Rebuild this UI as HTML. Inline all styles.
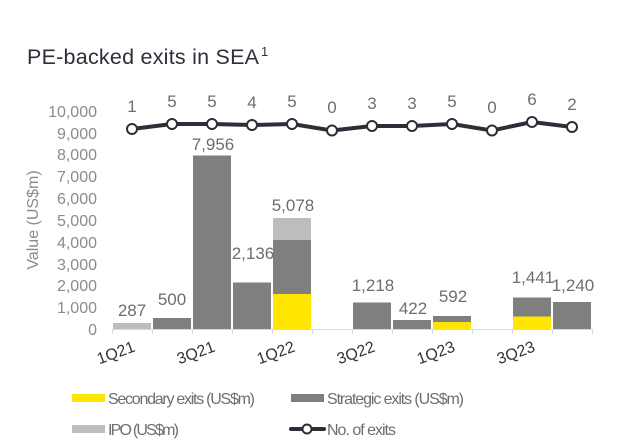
<!DOCTYPE html>
<html><head><meta charset="utf-8"><style>
html,body{margin:0;padding:0;background:#fff;}
svg{display:block;font-family:"Liberation Sans",sans-serif;}
</style></head><body>
<svg width="640" height="442" viewBox="0 0 640 442" xmlns="http://www.w3.org/2000/svg">
<rect width="640" height="442" fill="#fff"/>
<text x="27" y="64" font-size="21.5" fill="#2e2e38" textLength="232">PE-backed exits in SEA</text><text x="261" y="56" font-size="13" fill="#2e2e38">1</text>
<g font-size="16" fill="#8a8a92" text-anchor="end">
<text x="97" y="335">0</text>
<text x="97" y="313">1,000</text>
<text x="97" y="291">2,000</text>
<text x="97" y="270">3,000</text>
<text x="97" y="248">4,000</text>
<text x="97" y="226">5,000</text>
<text x="97" y="204">6,000</text>
<text x="97" y="182">7,000</text>
<text x="97" y="160">8,000</text>
<text x="97" y="139">9,000</text>
<text x="97" y="117">10,000</text>
</g>
<text transform="translate(38,220) rotate(-90)" font-size="16" fill="#8a8a92" text-anchor="middle">Value (US$m)</text>
<g>
<rect x="113" y="323" width="38" height="6" fill="#bdbdbd"/>
<rect x="153" y="318" width="38" height="11" fill="#7f7f7f"/>
<rect x="193" y="155.5" width="38" height="173.5" fill="#7f7f7f"/>
<rect x="233" y="282.5" width="38" height="46.5" fill="#7f7f7f"/>
<rect x="273" y="218" width="38" height="22" fill="#bdbdbd"/>
<rect x="273" y="240" width="38" height="54" fill="#7f7f7f"/>
<rect x="273" y="294" width="38" height="35" fill="#ffe600"/>
<rect x="353" y="302.5" width="38" height="26.5" fill="#7f7f7f"/>
<rect x="393" y="320" width="38" height="9" fill="#7f7f7f"/>
<rect x="433" y="316" width="38" height="6" fill="#7f7f7f"/>
<rect x="433" y="322" width="38" height="7" fill="#ffe600"/>
<rect x="513" y="297.5" width="38" height="19" fill="#7f7f7f"/>
<rect x="513" y="316.5" width="38" height="12.5" fill="#ffe600"/>
<rect x="553" y="302" width="38" height="27" fill="#7f7f7f"/>
</g>
<g stroke="#d9d9d9" stroke-width="1">
<line x1="112" y1="329.5" x2="592" y2="329.5"/>
<line x1="112.5" y1="329" x2="112.5" y2="334"/><line x1="152.5" y1="329" x2="152.5" y2="334"/>
<line x1="192.5" y1="329" x2="192.5" y2="334"/><line x1="232.5" y1="329" x2="232.5" y2="334"/>
<line x1="272.5" y1="329" x2="272.5" y2="334"/><line x1="312.5" y1="329" x2="312.5" y2="334"/>
<line x1="352.5" y1="329" x2="352.5" y2="334"/><line x1="392.5" y1="329" x2="392.5" y2="334"/>
<line x1="432.5" y1="329" x2="432.5" y2="334"/><line x1="472.5" y1="329" x2="472.5" y2="334"/>
<line x1="512.5" y1="329" x2="512.5" y2="334"/><line x1="552.5" y1="329" x2="552.5" y2="334"/>
<line x1="592.5" y1="329" x2="592.5" y2="334"/>
</g>
<g font-size="17" fill="#6d6e75" text-anchor="middle">
<text x="132" y="316">287</text>
<text x="172" y="305">500</text>
<text x="213" y="150">7,956</text>
<text x="253" y="259">2,136</text>
<text x="293" y="211">5,078</text>
<text x="373" y="291">1,218</text>
<text x="413" y="314">422</text>
<text x="453" y="302">592</text>
<text x="533" y="283">1,441</text>
<text x="573" y="291">1,240</text>
</g>
<g font-size="16" fill="#333" text-anchor="end">
<text transform="translate(136,351) rotate(-20)">1Q21</text>
<text transform="translate(216,351) rotate(-20)">3Q21</text>
<text transform="translate(296,351) rotate(-20)">1Q22</text>
<text transform="translate(376,351) rotate(-20)">3Q22</text>
<text transform="translate(456,351) rotate(-20)">1Q23</text>
<text transform="translate(536,351) rotate(-20)">3Q23</text>
</g>
<polyline points="132,129 172,124 212,124 252,125 292,124 332,130.5 372,126 412,126 452,124 492,130.5 532,122 572,127" fill="none" stroke="#2e2e38" stroke-width="4" stroke-linejoin="round"/>
<g fill="#fff" stroke="#2e2e38" stroke-width="2">
<circle cx="132" cy="129" r="5"/><circle cx="172" cy="124" r="5"/><circle cx="212" cy="124" r="5"/>
<circle cx="252" cy="125" r="5"/><circle cx="292" cy="124" r="5"/><circle cx="332" cy="130.5" r="5"/>
<circle cx="372" cy="126" r="5"/><circle cx="412" cy="126" r="5"/><circle cx="452" cy="124" r="5"/>
<circle cx="492" cy="130.5" r="5"/><circle cx="532" cy="122" r="5"/><circle cx="572" cy="127" r="5"/>
</g>
<g font-size="17" fill="#6d6e75" text-anchor="middle">
<text x="132" y="112">1</text><text x="172" y="107">5</text><text x="212" y="107">5</text>
<text x="252" y="108">4</text><text x="292" y="107">5</text><text x="332" y="113">0</text>
<text x="372" y="109">3</text><text x="412" y="109">3</text><text x="452" y="107">5</text>
<text x="492" y="113">0</text><text x="532" y="105">6</text><text x="572" y="110">2</text>
</g>
<g font-size="16" fill="#6d6e75">
<rect x="72" y="394" width="33" height="8" fill="#ffe600"/>
<text x="108" y="404" textLength="147">Secondary exits (US$m)</text>
<rect x="291" y="394" width="33" height="8" fill="#7f7f7f"/>
<text x="327" y="404" textLength="137">Strategic exits (US$m)</text>
<rect x="72" y="425" width="33" height="8" fill="#bdbdbd"/>
<text x="108" y="435" textLength="71">IPO (US$m)</text>
<line x1="291" y1="429" x2="324" y2="429" stroke="#2e2e38" stroke-width="4" stroke-linecap="round"/>
<circle cx="307" cy="429" r="4.5" fill="#fff" stroke="#2e2e38" stroke-width="2"/>
<text x="327" y="435" textLength="69">No. of exits</text>
</g>
</svg>
</body></html>
